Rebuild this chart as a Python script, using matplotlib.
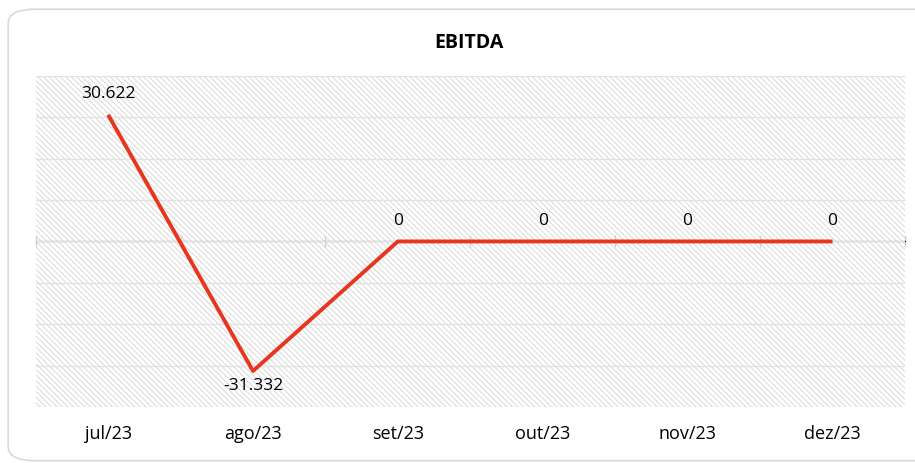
import matplotlib.pyplot as plt
from matplotlib.patches import FancyBboxPatch, Rectangle

plt.rcParams['font.family'] = ['Open Sans', 'DejaVu Sans']
plt.rcParams['hatch.linewidth'] = 0.6

# data
months = ['jul/23', 'ago/23', 'set/23', 'out/23', 'nov/23', 'dez/23']
ebitda = [30.622, -31.332, 0, 0, 0, 0]
labels = ['30.622', '-31.332', '0', '0', '0', '0']

fig = plt.figure(figsize=(9.15, 4.64), dpi=100)

# rounded chart border
fig.patches.append(FancyBboxPatch((0.009, 0.005), 1.1, 0.973, boxstyle='round,pad=0,rounding_size=0.03',
                                  transform=fig.transFigure, facecolor='white', edgecolor='#d9d9d9',
                                  linewidth=1.2, zorder=-10))

ax = fig.add_axes([0.039, 0.121, 0.95, 0.713])
ax.patch.set_alpha(0)
# hatched plot area
ax.add_patch(Rectangle((0, 0), 1, 1, transform=ax.transAxes, facecolor='white',
                       edgecolor='#d3d3d3', hatch='\\\\\\\\\\\\', linewidth=0, zorder=0))

x = list(range(len(months)))
ax.plot(x, ebitda, color='#e8361e', linewidth=2.8, solid_capstyle='butt', zorder=3)

# value labels
for xi, v, lab in zip(x, ebitda, labels):
    if v < 0:
        ax.annotate(lab, (xi, v), xytext=(0, -4), textcoords='offset points', ha='center', va='top', fontsize=12.5)
    else:
        ax.annotate(lab, (xi, v), xytext=(0, 10), textcoords='offset points', ha='center', va='bottom', fontsize=12.5)

ax.set_xlim(-0.5, len(months) - 0.5)
ax.set_ylim(-40, 40)
ax.set_yticks(range(-40, 41, 10))
ax.yaxis.grid(True, color='#e2e2e2', linewidth=1)
ax.set_axisbelow(True)
ax.tick_params(axis='y', left=False, labelleft=False)
for s in ax.spines.values():
    s.set_visible(False)

ax.set_xticks(x)
ax.set_xticklabels(months, fontsize=13)
ax.tick_params(axis='x', length=0, pad=12)

# zero axis with category separators
zero = ax.secondary_xaxis(0.5)
zero.spines['bottom'].set_color('#d0d0d0')
zero.spines['bottom'].set_linewidth(1.2)
zero.set_xticks([i - 0.5 for i in range(len(months) + 1)])
zero.set_xticklabels([])
zero.tick_params(axis='x', direction='inout', length=8, color='#d0d0d0', width=1,
                 labelbottom=False, labeltop=False)

fig.text(0.513, 0.907, 'EBITDA', ha='center', va='center', fontsize=14, fontweight='bold')

fig.savefig('out.png', dpi=100)
